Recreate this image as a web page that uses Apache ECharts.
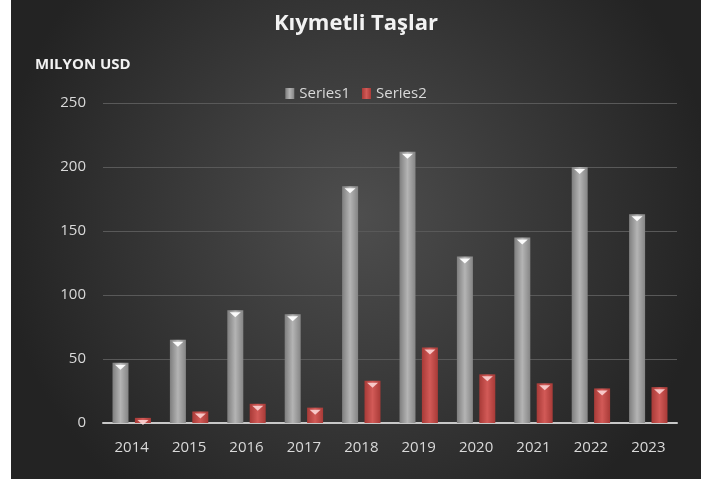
<!DOCTYPE html>
<html>
<head>
<meta charset="utf-8">
<script src="https://cdn.jsdelivr.net/npm/echarts@6/dist/echarts.min.js"></script>
<style>
  html, body { margin: 0; padding: 0; background: #fff; }
  #myChart { position: absolute; left: 11px; top: 0; width: 690px; height: 479px; }
</style>
</head>
<body>
<div id="myChart"></div>
<script>
// veriler
let years = ['2014', '2015', '2016', '2017', '2018', '2019', '2020', '2021', '2022', '2023'];
let series1 = [47, 65, 88, 85, 185, 212, 130, 145, 200, 163];
let series2 = [4, 9, 15, 12, 33, 59, 38, 31, 27, 28];
let yTicks = [0, 50, 100, 150, 200, 250];

let grayFill = {
  type: 'linear', x: 0, y: 0, x2: 1, y2: 0,
  colorStops: [
    {offset: 0, color: '#7e7e7e'},
    {offset: 0.5, color: '#b4b4b4'},
    {offset: 1, color: '#858585'}
  ]
};
let redFill = {
  type: 'linear', x: 0, y: 0, x2: 1, y2: 0,
  colorStops: [
    {offset: 0, color: '#a83a37'},
    {offset: 0.5, color: '#d25a57'},
    {offset: 1, color: '#a83a37'}
  ]
};
let tip = 'path://M0,0 L10,0 L5,5 Z';

let option = {
  backgroundColor: {
    type: 'radial', x: 0.5, y: 0.45, r: 0.75,
    colorStops: [
      {offset: 0, color: '#4e4e4e'},
      {offset: 1, color: '#232323'}
    ]
  },
  animation: false,
  textStyle: {fontFamily: 'Open Sans'},
  title: {
    text: 'Kıymetli Taşlar',
    left: 'center',
    top: 8,
    textStyle: {color: '#f2f2f2', fontSize: 22, fontWeight: 'bold', fontFamily: 'Open Sans'}
  },
  graphic: [{
    type: 'text',
    left: 24,
    top: 57,
    style: {text: 'MILYON USD', fill: '#f2f2f2', font: 'bold 15px "Open Sans"'}
  }],
  legend: {
    data: ['Series1', 'Series2'],
    top: 81,
    left: 'center',
    itemWidth: 9,
    itemHeight: 11,
    itemGap: 12,
    icon: 'rect',
    textStyle: {color: '#d9d9d9', fontSize: 15}
  },
  grid: {left: 92, right: 24, top: 103, bottom: 56},
  xAxis: {
    type: 'category',
    data: years,
    axisLine: {lineStyle: {color: '#c8c8c8', width: 2}},
    axisTick: {show: false},
    axisLabel: {color: '#d9d9d9', fontSize: 15, margin: 17}
  },
  yAxis: {
    type: 'value',
    min: yTicks[0],
    max: yTicks[yTicks.length - 1],
    interval: 50,
    axisLine: {show: false},
    axisTick: {show: false},
    axisLabel: {color: '#d9d9d9', fontSize: 15, margin: 17},
    splitLine: {lineStyle: {color: '#595959', width: 1}}
  },
  series: [
    {
      name: 'Series1',
      type: 'bar',
      data: series1,
      barWidth: 16,
      barGap: '40%',
      itemStyle: {color: grayFill},
      z: 2
    },
    {
      name: 'Series2',
      type: 'bar',
      data: series2,
      barWidth: 16,
      itemStyle: {color: redFill},
      z: 2
    },
    {
      type: 'pictorialBar',
      data: series1,
      symbol: tip,
      symbolSize: [11, 5],
      symbolPosition: 'end',
      symbolOffset: [-11.25, 2],
      itemStyle: {color: 'rgba(255,255,255,0.95)'},
      z: 5,
      silent: true
    },
    {
      type: 'pictorialBar',
      data: series2,
      symbol: tip,
      symbolSize: [11, 5],
      symbolPosition: 'end',
      symbolOffset: [11.25, 2],
      itemStyle: {color: 'rgba(255,220,220,0.85)'},
      z: 5,
      silent: true
    }
  ]
};

let myChart = echarts.init(document.getElementById('myChart'));
myChart.setOption(option);
</script>
</body>
</html>
